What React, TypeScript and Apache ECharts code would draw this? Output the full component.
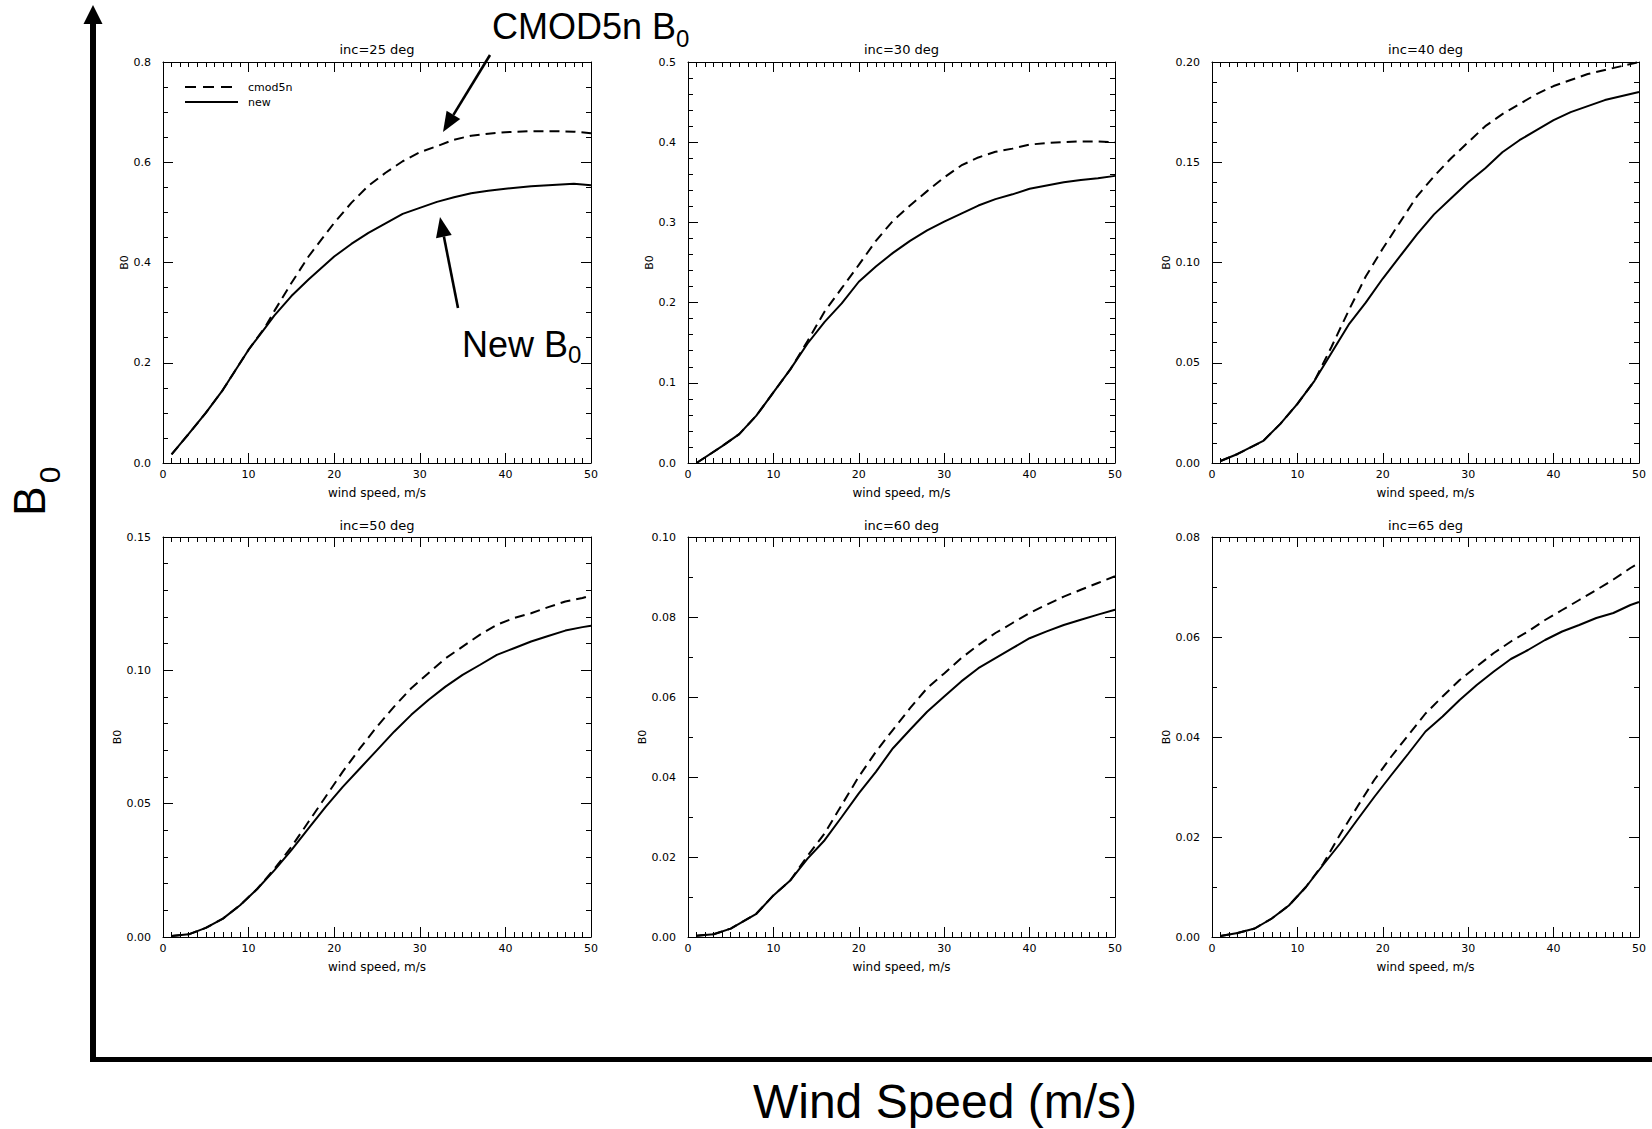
import React, { useEffect, useRef } from "react";
import * as echarts from "echarts";

// ---------- data ----------
const windInc25 = [1, 3, 5, 7, 10, 12, 13, 15, 17, 20, 22, 24, 26, 28, 30, 32, 34, 36, 38, 40, 43, 46, 48, 50];
const newInc25 = [0.017, 0.058, 0.1, 0.146, 0.226, 0.271, 0.294, 0.333, 0.366, 0.412, 0.437, 0.459, 0.478, 0.497, 0.509, 0.521, 0.53, 0.538, 0.543, 0.547, 0.552, 0.555, 0.557, 0.554];
const cmodInc25 = [0.017, 0.058, 0.1, 0.146, 0.226, 0.273, 0.303, 0.359, 0.412, 0.479, 0.519, 0.553, 0.579, 0.602, 0.62, 0.632, 0.645, 0.653, 0.657, 0.66, 0.662, 0.662, 0.661, 0.658];

const windInc30 = [1, 4, 6, 8, 10, 12, 14, 16, 18, 20, 22, 24, 26, 28, 30, 32, 34, 36, 38, 40, 42, 44, 46, 48, 50];
const newInc30 = [0.0, 0.021, 0.036, 0.059, 0.088, 0.117, 0.149, 0.176, 0.199, 0.226, 0.245, 0.262, 0.277, 0.29, 0.301, 0.311, 0.321, 0.329, 0.335, 0.342, 0.346, 0.35, 0.353, 0.355, 0.358];
const cmodInc30 = [0.0, 0.021, 0.036, 0.059, 0.088, 0.117, 0.152, 0.189, 0.218, 0.247, 0.277, 0.302, 0.321, 0.339, 0.356, 0.371, 0.381, 0.388, 0.392, 0.397, 0.399, 0.4, 0.401, 0.401, 0.4];

const windInc40 = [1, 3, 6, 8, 10, 12, 14, 16, 18, 20, 22, 24, 26, 28, 30, 32, 34, 36, 38, 40, 42, 44, 46, 48, 50];
const newInc40 = [0.001, 0.0045, 0.011, 0.0195, 0.0295, 0.041, 0.055, 0.069, 0.08, 0.092, 0.103, 0.114, 0.124, 0.132, 0.14, 0.147, 0.155, 0.161, 0.166, 0.171, 0.175, 0.178, 0.181, 0.183, 0.185];
const cmodInc40 = [0.001, 0.0045, 0.011, 0.0195, 0.0295, 0.041, 0.058, 0.076, 0.093, 0.107, 0.12, 0.133, 0.143, 0.152, 0.16, 0.168, 0.174, 0.179, 0.184, 0.188, 0.191, 0.194, 0.196, 0.198, 0.2];

const windInc50 = [1, 3, 5, 7, 9, 11, 13, 15, 17, 19, 21, 23, 25, 27, 29, 31, 33, 35, 37, 39, 41, 43, 45, 47, 49, 50];
const newInc50 = [0.0004, 0.001, 0.0034, 0.0069, 0.0119, 0.018, 0.025, 0.0326, 0.0407, 0.0488, 0.0563, 0.0632, 0.0701, 0.077, 0.0833, 0.0889, 0.0939, 0.0983, 0.102, 0.1058, 0.1083, 0.1108, 0.1129, 0.1149, 0.1162, 0.1167];
const cmodInc50 = [0.0004, 0.001, 0.0034, 0.0069, 0.0119, 0.018, 0.0255, 0.0338, 0.0432, 0.0526, 0.062, 0.0707, 0.0789, 0.0864, 0.0933, 0.0989, 0.1045, 0.1089, 0.1133, 0.1171, 0.1196, 0.1214, 0.1237, 0.1258, 0.1271, 0.1281];

const windInc60 = [1, 3, 5, 8, 10, 12, 14, 16, 18, 20, 22, 24, 26, 28, 30, 32, 34, 36, 38, 40, 42, 44, 46, 48, 50];
const newInc60 = [0.0003, 0.0007, 0.0021, 0.0058, 0.0104, 0.0142, 0.0196, 0.0242, 0.03, 0.0359, 0.0413, 0.0472, 0.0518, 0.0563, 0.0601, 0.0639, 0.0672, 0.0697, 0.0722, 0.0747, 0.0764, 0.078, 0.0793, 0.0806, 0.0818];
const cmodInc60 = [0.0003, 0.0007, 0.0021, 0.0058, 0.0104, 0.0142, 0.0203, 0.0259, 0.033, 0.0401, 0.0463, 0.0518, 0.0572, 0.0622, 0.0659, 0.0697, 0.073, 0.076, 0.0785, 0.081, 0.0831, 0.0851, 0.0868, 0.0885, 0.0902];

const windInc65 = [1, 3, 5, 7, 9, 11, 13, 15, 17, 19, 21, 23, 25, 27, 29, 31, 33, 35, 37, 39, 41, 43, 45, 47, 49, 50];
const newInc65 = [0.0002, 0.0008, 0.0017, 0.0037, 0.0063, 0.01, 0.0144, 0.0187, 0.0234, 0.028, 0.0324, 0.0367, 0.0411, 0.0441, 0.0474, 0.0504, 0.0531, 0.0556, 0.0574, 0.0594, 0.0611, 0.0624, 0.0638, 0.0648, 0.0664, 0.067];
const cmodInc65 = [0.0002, 0.0008, 0.0017, 0.0037, 0.0063, 0.01, 0.0146, 0.0205, 0.026, 0.0314, 0.0361, 0.0404, 0.0447, 0.0481, 0.0514, 0.0541, 0.0568, 0.0591, 0.0611, 0.0634, 0.0654, 0.0674, 0.0694, 0.0715, 0.0738, 0.0748];

const panelTitles = ["inc=25 deg", "inc=30 deg", "inc=40 deg", "inc=50 deg", "inc=60 deg", "inc=65 deg"];
const panelWinds = [windInc25, windInc30, windInc40, windInc50, windInc60, windInc65];
const panelNew = [newInc25, newInc30, newInc40, newInc50, newInc60, newInc65];
const panelCmod = [cmodInc25, cmodInc30, cmodInc40, cmodInc50, cmodInc60, cmodInc65];
const yMaxes = [0.8, 0.5, 0.2, 0.15, 0.1, 0.08];
const yIntervals = [0.2, 0.1, 0.05, 0.05, 0.02, 0.02];
const yMinorSplits = [4, 5, 5, 5, 2, 2];
const yDecimals = [1, 1, 2, 2, 2, 2];
const xMin = 0;
const xMax = 50;
const xInterval = 10;
const legendNames = ["cmod5n", "new"];

// ---------- layout ----------
const W = 1652;
const H = 1129;
const gridLefts = [163, 688, 1212];
const gridWidths = [428, 427, 427];
const gridTops = [62, 537];
const gridHeights = [401, 400];
const SMALL = '"DejaVu Sans", sans-serif';
const BIG = '"Liberation Sans", Arial, sans-serif';

function arrow(x1: number, y1: number, x2: number, y2: number, w: number, headLen: number, headHalf: number) {
  const dx = x2 - x1;
  const dy = y2 - y1;
  const L = Math.hypot(dx, dy);
  const ux = dx / L;
  const uy = dy / L;
  const bx = x2 - ux * headLen;
  const by = y2 - uy * headLen;
  const px = -uy * headHalf;
  const py = ux * headHalf;
  return [
    { type: "line", shape: { x1, y1, x2: bx, y2: by }, style: { stroke: "#000", lineWidth: w }, z: 10 },
    {
      type: "polygon",
      shape: { points: [[x2, y2], [bx + px, by + py], [bx - px, by - py]] },
      style: { fill: "#000" },
      z: 10,
    },
  ];
}

function buildOption() {
  const grid: any[] = [];
  const xAxis: any[] = [];
  const yAxis: any[] = [];
  const series: any[] = [];
  const graphic: any[] = [];

  const black = { color: "#000", width: 1 };
  for (let i = 0; i < 6; i++) {
    const col = i % 3;
    const row = Math.floor(i / 3);
    const left = gridLefts[col];
    const top = gridTops[row];
    const width = gridWidths[col];
    const height = gridHeights[row];
    grid.push({ left, top, width, height, containLabel: false });

    const axisLine = { show: true, onZero: false, lineStyle: black };
    const axisTick = { show: true, inside: true, length: 10, lineStyle: black };
    const xBase = {
      type: "value",
      gridIndex: i,
      min: xMin,
      max: xMax,
      interval: xInterval,
      axisLine,
      axisTick,
      minorTick: { show: true, splitNumber: 10, length: 5, lineStyle: black },
      splitLine: { show: false },
      minorSplitLine: { show: false },
    };
    xAxis.push({
      ...xBase,
      position: "bottom",
      axisLabel: {
        show: true,
        color: "#000",
        fontFamily: SMALL,
        fontSize: 11,
        margin: 6,
        showMinLabel: true,
        showMaxLabel: true,
        formatter: (v: number) => String(v),
      },
      name: "wind speed, m/s",
      nameLocation: "middle",
      nameGap: 24,
      nameTextStyle: { color: "#000", fontFamily: SMALL, fontSize: 12 },
    });
    xAxis.push({ ...xBase, position: "top", axisLabel: { show: false } });

    const yBase = {
      type: "value",
      gridIndex: i,
      min: 0,
      max: yMaxes[i],
      interval: yIntervals[i],
      axisLine,
      axisTick,
      minorTick: { show: true, splitNumber: yMinorSplits[i], length: 5, lineStyle: black },
      splitLine: { show: false },
      minorSplitLine: { show: false },
    };
    const dec = yDecimals[i];
    yAxis.push({
      ...yBase,
      position: "left",
      axisLabel: {
        show: true,
        color: "#000",
        fontFamily: SMALL,
        fontSize: 11,
        margin: 12,
        showMinLabel: true,
        showMaxLabel: true,
        formatter: (v: number) => v.toFixed(dec),
      },
      name: "B0",
      nameLocation: "middle",
      nameRotate: 90,
      nameGap: dec === 1 ? 31 : 40,
      nameTextStyle: { color: "#000", fontFamily: SMALL, fontSize: 11 },
    });
    yAxis.push({ ...yBase, position: "right", axisLabel: { show: false } });

    const winds = panelWinds[i];
    series.push({
      name: legendNames[0],
      type: "line",
      xAxisIndex: 2 * i,
      yAxisIndex: 2 * i,
      data: winds.map((w, k) => [w, panelCmod[i][k]]),
      showSymbol: false,
      symbol: "none",
      smooth: false,
      lineStyle: { color: "#000", width: 2, type: [10, 6] },
      z: 3,
    });
    series.push({
      name: legendNames[1],
      type: "line",
      xAxisIndex: 2 * i,
      yAxisIndex: 2 * i,
      data: winds.map((w, k) => [w, panelNew[i][k]]),
      showSymbol: false,
      symbol: "none",
      smooth: false,
      lineStyle: { color: "#000", width: 2, type: "solid" },
      z: 4,
    });

    // panel title
    graphic.push({
      type: "text",
      x: left + width / 2,
      y: row === 0 ? 49.5 : 525,
      style: {
        text: panelTitles[i],
        fill: "#000",
        fontFamily: SMALL,
        fontSize: 13,
        align: "center",
        verticalAlign: "middle",
      },
    });
  }

  // legend inside first panel
  graphic.push(
    { type: "line", shape: { x1: 185, y1: 87, x2: 238, y2: 87 }, style: { stroke: "#000", lineWidth: 2, lineDash: [11, 7] } },
    { type: "line", shape: { x1: 185, y1: 102, x2: 238, y2: 102 }, style: { stroke: "#000", lineWidth: 2 } },
    {
      type: "text",
      x: 248,
      y: 87,
      style: { text: legendNames[0], fill: "#000", fontFamily: SMALL, fontSize: 11, align: "left", verticalAlign: "middle" },
    },
    {
      type: "text",
      x: 248,
      y: 102,
      style: { text: legendNames[1], fill: "#000", fontFamily: SMALL, fontSize: 11, align: "left", verticalAlign: "middle" },
    }
  );

  // annotation arrows and texts
  graphic.push(...arrow(490, 55, 443, 132, 2.6, 20, 8));
  graphic.push(...arrow(458, 308, 440, 217, 2.6, 20, 8));
  graphic.push(
    {
      type: "text",
      x: 492,
      y: 26.5,
      z: 10,
      style: { text: "CMOD5n B", fill: "#000", fontFamily: BIG, fontSize: 36, align: "left", verticalAlign: "middle" },
    },
    {
      type: "text",
      x: 676,
      y: 38.7,
      z: 10,
      style: { text: "0", fill: "#000", fontFamily: BIG, fontSize: 24, align: "left", verticalAlign: "middle" },
    },
    {
      type: "text",
      x: 462,
      y: 344.5,
      z: 10,
      style: { text: "New B", fill: "#000", fontFamily: BIG, fontSize: 36, align: "left", verticalAlign: "middle" },
    },
    {
      type: "text",
      x: 568,
      y: 354.7,
      z: 10,
      style: { text: "0", fill: "#000", fontFamily: BIG, fontSize: 24, align: "left", verticalAlign: "middle" },
    }
  );

  // big outer axes
  graphic.push(...arrow(93, 1062, 93, 5, 6, 19, 9.5));
  graphic.push({
    type: "line",
    shape: { x1: 90.5, y1: 1059.5, x2: W, y2: 1059.5 },
    style: { stroke: "#000", lineWidth: 5 },
    z: 10,
  });
  graphic.push(
    {
      type: "text",
      x: 945,
      y: 1101.4,
      style: { text: "Wind Speed (m/s)", fill: "#000", fontFamily: BIG, fontSize: 48, align: "center", verticalAlign: "middle" },
    },
    {
      type: "text",
      x: 29,
      y: 501,
      rotation: Math.PI / 2,
      style: { text: "B", fill: "#000", fontFamily: BIG, fontSize: 44, align: "center", verticalAlign: "middle" },
    },
    {
      type: "text",
      x: 49,
      y: 475,
      rotation: Math.PI / 2,
      style: { text: "0", fill: "#000", fontFamily: BIG, fontSize: 30, align: "center", verticalAlign: "middle" },
    }
  );

  return {
    animation: false,
    backgroundColor: "#fff",
    textStyle: { fontFamily: SMALL, color: "#000" },
    grid,
    xAxis,
    yAxis,
    series,
    graphic,
  };
}

export default function App() {
  const ref = useRef<HTMLDivElement>(null);
  useEffect(() => {
    if (!ref.current) return;
    const chart = echarts.init(ref.current, undefined, { renderer: "svg" });
    chart.setOption(buildOption() as any);
    return () => chart.dispose();
  }, []);
  return (
    <div
      ref={ref}
      style={{ position: "absolute", left: 0, top: 0, width: W, height: H, background: "#fff" }}
    />
  );
}
